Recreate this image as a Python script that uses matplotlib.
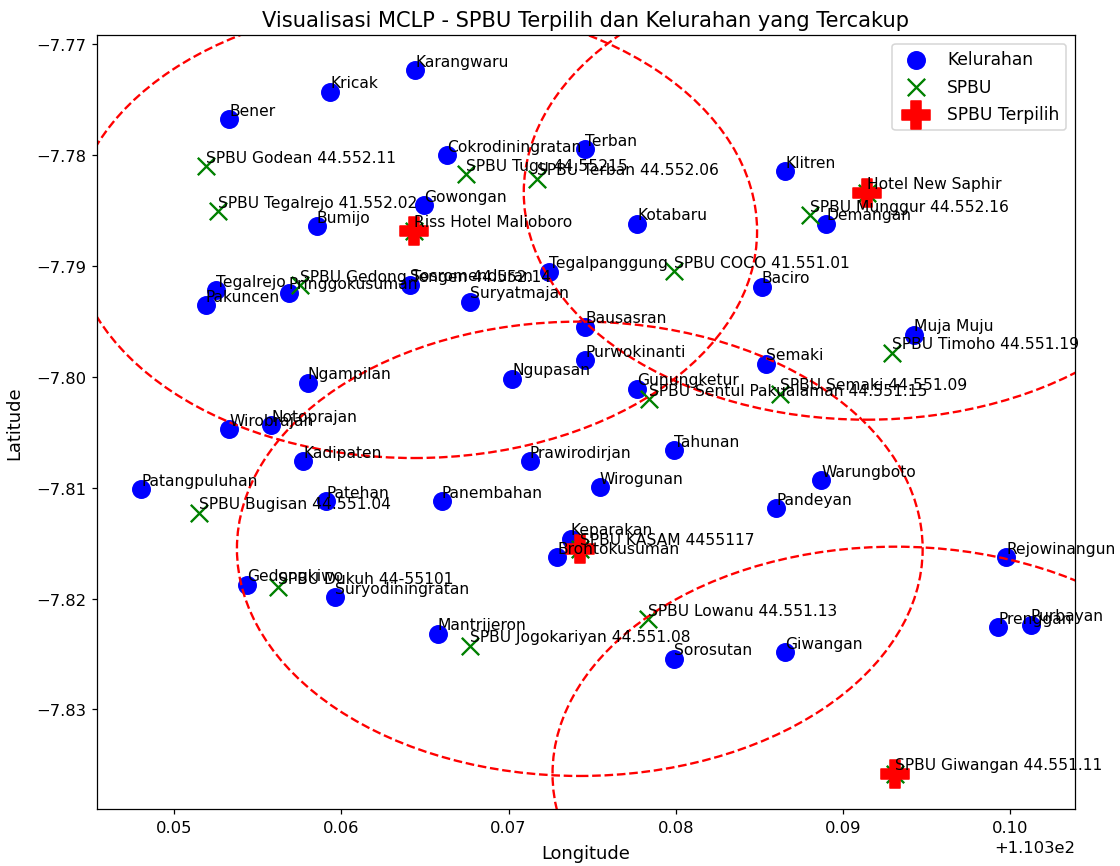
import matplotlib
matplotlib.use("Agg")
import matplotlib.pyplot as plt

# ---- Kelurahan ----
kel_names = ["Karangwaru", "Kricak", "Bener", "Cokrodiningratan", "Terban", "Klitren",
             "Gowongan", "Bumijo", "Kotabaru", "Demangan", "Tegalpanggung", "Baciro",
             "Tegalrejo", "Pakuncen", "Pringgokusuman", "Sosromenduran", "Suryatmajan",
             "Bausasran", "Purwokinanti", "Ngupasan", "Gunungketur", "Semaki", "Muja Muju",
             "Ngampilan", "Wirobrajan", "Notoprajan", "Kadipaten", "Tahunan", "Prawirodirjan",
             "Warungboto", "Wirogunan", "Patangpuluhan", "Patehan", "Panembahan", "Pandeyan",
             "Keparakan", "Brontokusuman", "Rejowinangun", "Gedongkiwo", "Suryodiningratan",
             "Mantrijeron", "Sorosutan", "Giwangan", "Prenggan", "Purbayan"]
kel_lon = [110.36442, 110.35935, 110.35331, 110.36630, 110.37460, 110.38654,
           110.36496, 110.35854, 110.37770, 110.38900, 110.37242, 110.38514,
           110.35251, 110.35189, 110.35685, 110.36409, 110.36772,
           110.37458, 110.37458, 110.37022, 110.37768, 110.38537, 110.39427,
           110.35800, 110.35331, 110.35581, 110.35771, 110.37988, 110.37128,
           110.38870, 110.37544, 110.34805, 110.35911, 110.36600, 110.38600,
           110.37372, 110.37292, 110.39977, 110.35435, 110.35965,
           110.36576, 110.37988, 110.38653, 110.39927, 110.40121]
kel_lat = [-7.77232, -7.77427, -7.77674, -7.78000, -7.77945, -7.78142,
           -7.78451, -7.78641, -7.78616, -7.78616, -7.79052, -7.79185,
           -7.79219, -7.79354, -7.79239, -7.79167, -7.79323,
           -7.79549, -7.79851, -7.80016, -7.80106, -7.79880, -7.79619,
           -7.80052, -7.80474, -7.80438, -7.80763, -7.80663, -7.80763,
           -7.80934, -7.80994, -7.81015, -7.81124, -7.81124, -7.81183,
           -7.81461, -7.81626, -7.81626, -7.81876, -7.81987,
           -7.82318, -7.82544, -7.82484, -7.82258, -7.82237]

# ---- SPBU ----
spbu_names = ["SPBU Godean 44.552.11", "SPBU Tegalrejo 41.552.02", "SPBU Tugu 44.55215",
              "SPBU Terban 44.552.06", "Hotel New Saphir", "SPBU Munggur 44.552.16",
              "Riss Hotel Malioboro", "SPBU Gedong Tengen 44.552.14", "SPBU COCO 41.551.01",
              "SPBU Timoho 44.551.19", "SPBU Semaki 44.551.09", "SPBU Sentul Pakualaman 44.551.15",
              "SPBU Bugisan 44.551.04", "SPBU KASAM 4455117", "SPBU Dukuh 44-55101",
              "SPBU Jogokariyan 44.551.08", "SPBU Lowanu 44.551.13", "SPBU Giwangan 44.551.11"]
spbu_lon = [110.35189, 110.35261, 110.36746, 110.37172, 110.39141, 110.38801,
            110.36436, 110.35755, 110.37988, 110.39291, 110.38621, 110.37842,
            110.35149, 110.37426, 110.35619, 110.36772, 110.37832, 110.39313]
spbu_lat = [-7.78099, -7.78505, -7.78171, -7.78210, -7.78336, -7.78541,
            -7.78682, -7.79173, -7.79047, -7.79781, -7.80151, -7.80203,
            -7.81226, -7.81551, -7.81897, -7.82424, -7.82189, -7.83582]

selected = ["Riss Hotel Malioboro", "Hotel New Saphir", "SPBU KASAM 4455117",
            "SPBU Giwangan 44.551.11"]
coverage_radius = 0.0205  # degrees

fig = plt.figure(figsize=(10, 7.741), dpi=112)
ax = fig.add_subplot(111)
fig.subplots_adjust(left=0.0866, right=0.9598, bottom=0.0657, top=0.9585)

ax.scatter(kel_lon, kel_lat, c="blue", s=125, label="Kelurahan")
for n, x, y in zip(kel_names, kel_lon, kel_lat):
    ax.text(x, y + 0.0004, n, fontsize=10)

ax.scatter(spbu_lon, spbu_lat, c="green", marker="x", s=125, label="SPBU")
for n, x, y in zip(spbu_names, spbu_lon, spbu_lat):
    ax.text(x, y + 0.0004, n, fontsize=10)

sel_lon = [spbu_lon[spbu_names.index(n)] for n in selected]
sel_lat = [spbu_lat[spbu_names.index(n)] for n in selected]
ax.scatter(sel_lon, sel_lat, c="red", marker="P", s=320, label="SPBU Terpilih")
for x, y in zip(sel_lon, sel_lat):
    c = plt.Circle((x, y), coverage_radius, color="red", fill=False,
                   linestyle="--", linewidth=1.5)
    ax.add_artist(c)

ax.set_title("Visualisasi MCLP - SPBU Terpilih dan Kelurahan yang Tercakup", fontsize=13.5)
ax.set_xlabel("Longitude", fontsize=11.5, labelpad=6)
ax.set_ylabel("Latitude", fontsize=11.5, labelpad=8)
ax.tick_params(labelsize=10.5)
ax.xaxis.get_offset_text().set_fontsize(10.5)
ax.legend(loc="upper right", fontsize=11, labelspacing=0.55)

fig.savefig("out.png", dpi=112)
